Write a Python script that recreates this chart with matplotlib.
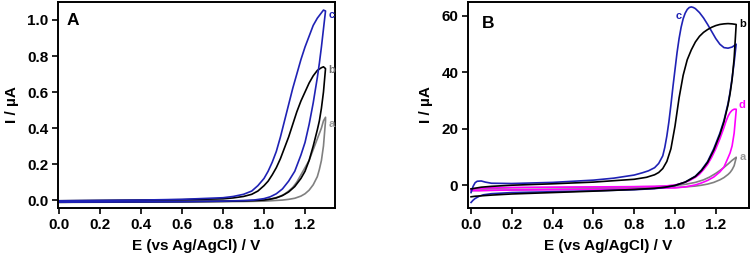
import matplotlib
matplotlib.use("Agg")
import matplotlib.pyplot as plt

plt.rcParams["font.family"] = ["Liberation Sans", "DejaVu Sans"]
plt.rcParams["font.weight"] = "bold"
plt.rcParams["axes.linewidth"] = 1.4

BLUE = "#1f22b5"
GRAY = "#808080"
MAGENTA = "#ff00ff"

# ---- panel A (forward scan = lower branch, reverse scan = upper branch)
a_fwd_E = [0.0, 0.2, 0.4, 0.6, 0.8, 0.9, 0.95, 1.0, 1.03, 1.06, 1.09, 1.12, 1.15, 1.18,
           1.2, 1.22, 1.24, 1.26, 1.27, 1.28, 1.29, 1.3]
a_rev_E = [1.3, 1.29, 1.28, 1.26, 1.24, 1.22, 1.2, 1.18, 1.16, 1.14, 1.12, 1.1, 1.08, 1.06,
           1.04, 1.02, 1.0, 0.97, 0.94, 0.9, 0.85, 0.8, 0.6, 0.4, 0.2, 0.0]

A_a_fwd = [-0.013, -0.012, -0.011, -0.010, -0.009, -0.008, -0.007, -0.006, -0.004, -0.002, 0.0,
           0.004, 0.01, 0.022, 0.035, 0.055, 0.085, 0.13, 0.17, 0.22, 0.30, 0.44]
A_a_rev = [0.46, 0.44, 0.40, 0.34, 0.28, 0.22, 0.18, 0.14, 0.10, 0.07, 0.05, 0.033, 0.022, 0.014,
           0.008, 0.004, 0.001, -0.001, -0.002, -0.003, -0.004, -0.004, -0.005, -0.006, -0.007, -0.008]

A_b_fwd = [-0.012, -0.011, -0.010, -0.009, -0.007, -0.005, -0.003, 0.0, 0.005, 0.012, 0.025,
           0.045, 0.075, 0.12, 0.16, 0.22, 0.30, 0.39, 0.44, 0.51, 0.60, 0.73]
A_b_rev = [0.73, 0.74, 0.735, 0.72, 0.69, 0.65, 0.60, 0.55, 0.49, 0.42, 0.35, 0.29, 0.23, 0.18,
           0.14, 0.105, 0.08, 0.05, 0.032, 0.02, 0.012, 0.007, 0.002, 0.0, -0.002, -0.004]

A_c_fwd = [-0.012, -0.011, -0.010, -0.009, -0.006, -0.003, 0.0, 0.008, 0.018, 0.035, 0.062,
           0.105, 0.16, 0.25, 0.32, 0.42, 0.54, 0.68, 0.76, 0.85, 0.95, 1.05]
A_c_rev = [1.05, 1.055, 1.04, 1.01, 0.97, 0.91, 0.85, 0.78, 0.70, 0.62, 0.53, 0.44, 0.35, 0.27,
           0.21, 0.16, 0.12, 0.08, 0.05, 0.032, 0.02, 0.013, 0.004, 0.0, -0.002, -0.004]

# ---- panel B
b_fwd_E = [0.0, 0.01, 0.02, 0.04, 0.06, 0.1, 0.2, 0.4, 0.6, 0.8, 0.9, 0.95, 1.0, 1.05, 1.1,
           1.13, 1.16, 1.19, 1.22, 1.24, 1.26, 1.27, 1.28, 1.29, 1.3]

B_a_fwd = [-1.8, -1.8, -1.8, -1.8, -1.7, -1.7, -1.6, -1.4, -1.2, -1.0, -0.9, -0.8, -0.7, -0.5,
           -0.2, 0.1, 0.5, 1.1, 2.0, 2.8, 3.9, 4.6, 5.6, 7.0, 9.8]
B_a_rev_E = [1.3, 1.28, 1.26, 1.24, 1.22, 1.2, 1.17, 1.14, 1.1, 1.05, 1.0, 0.9, 0.6, 0.2, 0.0]
B_a_rev = [10.0, 8.9, 7.6, 6.4, 5.3, 4.3, 3.0, 2.0, 1.1, 0.4, 0.0, -0.4, -0.6, -0.8, -1.2]

B_b_fwd = [-4.0, -3.9, -3.8, -3.7, -3.6, -3.4, -3.0, -2.5, -2.0, -1.4, -1.0, -0.6, 0.0, 1.2,
           3.2, 5.3, 8.2, 12.5, 18.0, 22.5, 28.5, 32.5, 37.5, 45.0, 57.0]
B_b_rev_E = [1.3, 1.28, 1.26, 1.24, 1.22, 1.2, 1.18, 1.16, 1.14, 1.12, 1.1, 1.08, 1.06, 1.04,
             1.02, 1.0, 0.98, 0.96, 0.94, 0.92, 0.9, 0.86, 0.8, 0.6, 0.4, 0.2, 0.1, 0.05, 0.0]
B_b_rev = [57.0, 57.2, 57.3, 57.2, 57.0, 56.6, 56.0, 55.2, 54.2, 52.8, 50.8, 48.0, 44.5, 39.0,
           31.0, 21.0, 13.0, 8.5, 6.0, 4.6, 3.8, 2.9, 2.2, 1.2, 0.6, 0.1, -0.3, -0.6, -1.2]

B_c_fwd = [-6.0, -5.2, -4.6, -3.8, -3.3, -2.9, -2.5, -2.2, -1.9, -1.5, -1.1, -0.7, 0.0, 1.2,
           3.3, 5.5, 8.5, 13.0, 18.5, 23.0, 29.0, 33.0, 38.0, 43.5, 50.0]
B_c_rev_E = [1.3, 1.28, 1.26, 1.24, 1.22, 1.2, 1.18, 1.16, 1.14, 1.12, 1.1, 1.09, 1.08, 1.07,
             1.06, 1.05, 1.04, 1.03, 1.02, 1.01, 1.0, 0.99, 0.98, 0.97, 0.96, 0.95, 0.94, 0.92,
             0.9, 0.87, 0.84, 0.8, 0.7, 0.6, 0.4, 0.2, 0.1, 0.07, 0.05, 0.03, 0.02, 0.01, 0.0]
B_c_rev = [50.0, 49.0, 48.6, 48.8, 50.0, 52.0, 54.5, 57.0, 59.3, 61.2, 62.6, 63.0, 63.2, 63.0,
           62.3, 61.0, 59.0, 56.0, 52.0, 47.0, 41.0, 35.0, 28.5, 22.5, 17.5, 13.5, 10.5, 7.8,
           6.3, 5.2, 4.5, 3.7, 2.6, 1.9, 1.1, 0.7, 0.8, 1.2, 1.6, 1.5, 1.0, -0.3, -2.5]

B_d_fwd = [-1.8, -1.8, -1.8, -1.8, -1.8, -1.7, -1.6, -1.5, -1.4, -1.2, -1.0, -0.9, -0.85, -0.5,
           0.2, 0.9, 1.8, 3.0, 4.8, 6.5, 9.8, 11.5, 14.0, 18.5, 26.5]
B_d_rev_E = [1.3, 1.29, 1.28, 1.27, 1.26, 1.25, 1.24, 1.22, 1.2, 1.18, 1.16, 1.14, 1.12, 1.1,
             1.07, 1.04, 1.0, 0.95, 0.9, 0.8, 0.6, 0.4, 0.2, 0.1, 0.0]
B_d_rev = [27.0, 27.0, 26.6, 25.8, 24.5, 22.7, 20.5, 16.5, 13.0, 10.0, 7.5, 5.6, 4.0, 2.9,
           1.7, 0.9, 0.2, -0.2, -0.3, -0.4, -0.5, -0.6, -0.7, -0.8, -1.2]

fig = plt.figure(figsize=(7.5, 2.57), dpi=100)
axA = fig.add_axes([0.0773, 0.1907, 0.3693, 0.8016])
axB = fig.add_axes([0.624, 0.1907, 0.3747, 0.8016])

lw = 1.2
axA.plot(a_fwd_E + a_rev_E, A_a_fwd + A_a_rev, color=GRAY, lw=lw)
axA.plot(a_fwd_E + a_rev_E, A_b_fwd + A_b_rev, color="black", lw=lw)
axA.plot(a_fwd_E + a_rev_E, A_c_fwd + A_c_rev, color=BLUE, lw=lw)

axB.plot(b_fwd_E + B_a_rev_E, B_a_fwd + B_a_rev, color=GRAY, lw=lw)
axB.plot(b_fwd_E + B_d_rev_E, B_d_fwd + B_d_rev, color=MAGENTA, lw=lw)
axB.plot(b_fwd_E + B_c_rev_E, B_c_fwd + B_c_rev, color=BLUE, lw=lw)
axB.plot(b_fwd_E + B_b_rev_E, B_b_fwd + B_b_rev, color="black", lw=lw)

axA.set_xlim(-0.005, 1.346)
axA.set_ylim(-0.044, 1.1)
axA.set_yticks([0.0, 0.2, 0.4, 0.6, 0.8, 1.0])
axA.set_yticklabels(["0.0", "0.2", "0.4", "0.6", "0.8", "1.0"])

axB.set_xlim(-0.015, 1.363)
axB.set_ylim(-7.96, 64.95)
axB.set_yticks([0, 20, 40, 60])

for ax in (axA, axB):
    ax.set_xticks([0.0, 0.2, 0.4, 0.6, 0.8, 1.0, 1.2])
    ax.set_xticklabels(["0.0", "0.2", "0.4", "0.6", "0.8", "1.0", "1.2"])
    ax.tick_params(direction="out", length=4, width=1.2, labelsize=11, pad=3)
    for lab in ax.get_xticklabels() + ax.get_yticklabels():
        lab.set_fontweight("bold")
    ax.set_xlabel("E (vs Ag/AgCl) / V", fontsize=11, fontweight="bold", labelpad=5)
    ax.set_ylabel("I / \u00b5A", fontsize=11, fontweight="bold", labelpad=6)

axA.text(0.032, 0.888, "A", transform=axA.transAxes, fontsize=12.5, fontweight="bold")
axB.text(0.049, 0.872, "B", transform=axB.transAxes, fontsize=12.5, fontweight="bold")

# curve labels
kw = dict(fontsize=8, fontweight="bold", ha="center", va="center")
axA.text(1.332, 1.03, "c", color=BLUE, **kw)
axA.text(1.328, 0.72, "b", color="#6e6e6e", **kw)
axA.text(1.332, 0.42, "a", color="#9a9a9a", **kw)

axB.text(1.02, 60.1, "c", color=BLUE, **kw)
axB.text(1.332, 57.1, "b", color="black", **kw)
axB.text(1.330, 28.5, "d", color=MAGENTA, **kw)
axB.text(1.330, 10.1, "a", color="#9a9a9a", **kw)

fig.savefig("out.png", dpi=100)
